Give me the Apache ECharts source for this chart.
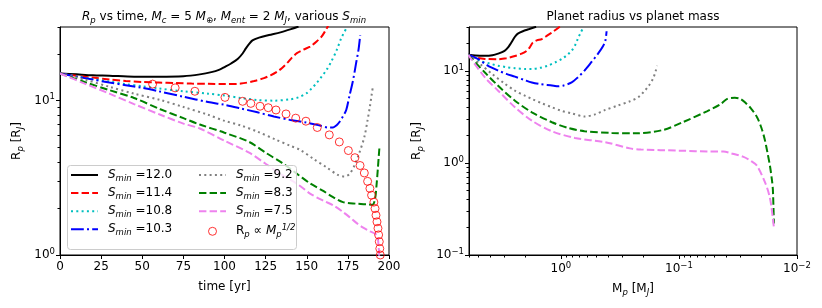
<!DOCTYPE html>
<html><head><meta charset="utf-8">
<script src="https://cdn.jsdelivr.net/npm/echarts@6/dist/echarts.min.js"></script>
<style>html,body{margin:0;padding:0;background:#fff}#c{width:822px;height:308px}</style>
</head><body><div id="c"></div>
<script>
// ---------- Left panel: R_p vs time ----------
const tS120 = [0,10,20,30,45,60,75,85,92,97,100,104,108,111,113,115,117,121,127,134,141,145];
const rS120 = [15,14.8,14.6,14.5,14.3,14.3,14.4,14.8,15.3,15.9,16.5,17.4,18.6,20.2,21.8,23.3,24.6,25.6,26.6,27.7,29.2,30.2];
const tS114 = [0,10,20,30,40,50,60,70,80,90,100,110,118,124,128,132,135,138,141,144,148,152,156,159,161,163];
const rS114 = [15,14.5,14.1,13.7,13.4,13.2,13.1,13.0,12.9,12.85,12.8,12.9,13.4,14.0,14.6,15.4,16.3,17.5,19.0,20.3,21.4,22.4,24.2,26,28,30.5];
const tS108 = [0,10,20,30,40,50,60,75,90,100,110,120,130,140,145,150,153,156,159,162,165,168,171,174.5];
const rS108 = [15,14.4,13.8,13.3,12.8,12.4,12.0,11.5,11.1,10.8,10.4,10.1,10.0,10.2,10.5,11.2,12.0,13.0,14.3,15.8,18,21,25.4,30];
const tS103 = [0,10,20,30,40,50,60,75,90,100,110,120,130,140,150,158,163,166,168,170,172,174,176,178,180,181.5,182.5];
const rS103 = [15,14.3,13.7,13.1,12.6,12.1,11.5,10.6,9.8,9.4,8.9,8.4,7.9,7.5,7.2,6.9,6.7,6.7,6.9,7.3,7.9,8.7,10.8,13.3,17.5,21.5,26.5];
const tS092 = [0,15,30,45,61,75,90,100,110,120,131,140,146,154,162,169,173,176,179,182,185,187,188.5,189.5,190.3];
const rS092 = [15,13.7,12.3,11.1,10.1,9.1,8.1,7.4,6.9,6.3,5.6,5.1,4.8,4.2,3.7,3.3,3.23,3.35,3.8,4.6,5.8,7.5,9.3,11,12.5];
const tS083 = [0,15,30,45,61,75,85,100,115,125,135,145,152,160,166,172,180,186.6,190,191.5,192.5,193.2,193.8,194.2];
const rS083 = [15,13.2,11.7,10.4,8.8,7.7,7.0,6.2,5.4,4.6,3.95,3.3,2.91,2.6,2.37,2.2,2.15,2.13,2.12,2.3,2.9,3.6,4.4,5.0];
const tS075 = [0,15,30,45,61,75,85,100,115,125,135,145,152,160,166,172,176,180,184,188,192.5,193.5,194.2,194.7,195.2];
const rS075 = [15,12.9,11.1,9.5,8.1,7.1,6.6,5.5,4.6,3.9,3.3,2.85,2.5,2.25,2.1,1.9,1.76,1.62,1.51,1.43,1.35,1.2,0.9,0.6,0.3];
const tCirc = [56.3,70,82,100.3,111,116,121.6,126.6,131.3,137.4,143.3,149.5,156.4,163.7,169.8,175.3,179.3,182.4,185,187,188.4,189.4,190.8,191.5,192.1,192.7,193.3,193.7,194.1,194.4,194.7,195];
const rCirc = [12.8,12.1,11.5,10.5,9.9,9.6,9.2,9.0,8.7,8.2,7.7,7.36,6.7,6.0,5.4,4.75,4.27,3.8,3.4,3.0,2.7,2.44,2.2,2.0,1.81,1.64,1.49,1.35,1.22,1.1,1.0,0.9];

// ---------- Right panel: R_p vs M_p ----------
const mS120 = [6.1,5.3,4.4,3.8,3.4,3.0,2.8,2.65,2.45,2.33,2.1,1.85,1.62];
const qS120 = [15,14.7,14.6,14.8,15.4,16.5,18,20,23.5,25.3,27,28.5,30.2];
const mS114 = [6.1,5.3,4.4,3.4,2.9,2.45,2.15,1.94,1.82,1.73,1.6,1.45,1.3,1.15,1.02];
const qS114 = [15,14,13.5,13.4,13.7,14.5,15.4,16.6,18.3,20.3,21.5,22.2,24.3,27,30.2];
const mS108 = [6.1,4.85,4.0,3.4,2.9,2.45,2.0,1.76,1.5,1.29,1.1,0.98,0.88,0.81,0.75,0.72,0.68,0.65];
const qS108 = [15,12.9,12.0,11.4,11.0,10.7,10.5,10.5,10.8,11.4,12.5,13.5,15,16.6,19.5,22.2,26,29];
const mS103 = [6.1,5.05,4.2,3.4,2.9,2.45,2.0,1.76,1.5,1.31,1.15,1.06,0.95,0.81,0.72,0.63,0.55,0.486,0.44,0.42,0.41];
const qS103 = [15,13.5,11.5,10.1,9.3,8.66,7.9,7.5,7.2,7.05,6.9,6.8,6.95,7.5,8.5,10.1,12.5,15.3,18.5,21.3,27];
const mS092 = [6.1,4.8,3.84,3.0,2.45,2.0,1.76,1.45,1.19,1.0,0.81,0.63,0.52,0.42,0.33,0.26,0.22,0.2,0.18,0.166,0.158,0.153];
const qS092 = [15,11.8,9.3,7.3,6.1,5.35,4.96,4.45,4.03,3.7,3.46,3.2,3.35,3.77,4.2,4.68,5.2,5.87,6.9,8.2,9.8,11.4];
const mS083 = [6.1,4.4,3.4,2.45,1.76,1.19,0.87,0.63,0.37,0.236,0.137,0.093,0.058,0.045,0.039,0.0336,0.0305,0.0276,0.0245,0.0218,0.02,0.0188,0.0178,0.0169,0.0163,0.016,0.0157];
const qS083 = [15,9.6,6.9,4.75,3.55,2.77,2.4,2.21,2.12,2.1,2.28,2.77,3.64,4.3,4.96,5.1,5.0,4.56,3.9,3.14,2.4,1.82,1.3,0.91,0.65,0.51,0.22];
const mS075 = [6.1,4.4,3.4,2.45,1.76,1.19,0.76,0.42,0.26,0.21,0.098,0.054,0.042,0.036,0.0287,0.0245,0.0218,0.0185,0.0172,0.0165,0.0157];
const qS075 = [15,8.5,6.1,4.03,2.88,2.21,1.87,1.68,1.44,1.4,1.36,1.33,1.33,1.27,1.17,1.05,0.93,0.6,0.45,0.34,0.2];

// ---------- Ticks ----------
const timeTicks = [0,25,50,75,100,125,150,175,200];
const leftMajorY = [1,10];
const leftMinorY = [2,3,4,5,6,7,8,9,20,30];
const rightMajorY = [0.1,1,10];
const rightMinorY = [0.2,0.3,0.4,0.5,0.6,0.7,0.8,0.9,2,3,4,5,6,7,8,9,20,30];
const rightMajorX = [0.01,0.1,1];
const rightMinorX = [0.02,0.03,0.04,0.05,0.06,0.07,0.08,0.09,0.2,0.3,0.4,0.5,0.6,0.7,0.8,0.9,2,3,4,5,6];

const sNames = ['12.0','11.4','10.8','10.3','9.2','8.3','7.5'];
const colors = ['#000000','#ff0000','#00bfbf','#0000ff','#808080','#008000','#ee82ee'];
const dashes = ['solid',[7.4,3.2],[2,3.3],[12.8,3.2,2,3.2],[2,3.3],[7.4,3.2],[7.4,3.2]];
const leftT = [tS120,tS114,tS108,tS103,tS092,tS083,tS075];
const leftR = [rS120,rS114,rS108,rS103,rS092,rS083,rS075];
const rightM = [mS120,mS114,mS108,mS103,mS092,mS083,mS075];
const rightR = [qS120,qS114,qS108,qS103,qS092,qS083,qS075];
const circName = 'circ';

const zip = (a,b) => a.map((v,i)=>[v,b[i]]);
const FONT = 'DejaVu Sans';
const W = 'normal';
const richBase = {
  n: {fontSize:12, fontFamily:FONT, fontWeight:W, color:'#000', lineHeight:16},
  i: {fontSize:12, fontFamily:FONT, fontWeight:W, fontStyle:'italic', color:'#000', lineHeight:16},
  si: {fontSize:8.5, fontFamily:FONT, fontWeight:W, fontStyle:'italic', color:'#000', lineHeight:9, verticalAlign:'bottom'},
  sn: {fontSize:8.5, fontFamily:FONT, fontWeight:W, color:'#000', lineHeight:9, verticalAlign:'bottom'},
  sup: {fontSize:8.5, fontFamily:FONT, fontWeight:W, fontStyle:'italic', color:'#000', lineHeight:9, verticalAlign:'top'},
  b: {fontSize:12, fontFamily:FONT, fontWeight:W, color:'#000', lineHeight:16},
  e: {fontSize:8.5, fontFamily:FONT, fontWeight:W, color:'#000', lineHeight:10, verticalAlign:'top'}
};
function powLabel(v){
  const e = Math.round(Math.log10(v));
  return '{b|10}{e|' + (e < 0 ? '\u2212' + (-e) : e) + '}';
}
function legendFmt(name){
  if (name === circName) return '{n|R}{si|p}{n| \u221d }{i|M}{si|p}{sup|1/2}';
  return '{i|S}{si|min}{n| =' + name + '}';
}
const hideSym = {color:'rgba(0,0,0,0)', borderWidth:0};
const legItem = n => n === circName
  ? {name:n, icon:'circle', itemStyle:{color:'rgba(255,255,255,0)', borderColor:'#ff0000', borderWidth:1}}
  : {name:n, itemStyle:hideSym};

const series = [];
for (let k = 0; k < 7; k++) {
  series.push({
    name: sNames[k], type:'line', xAxisIndex:0, yAxisIndex:0,
    data: zip(leftT[k], leftR[k]), symbol:'none', smooth:0.3,
    lineStyle:{color:colors[k], width:2, type:dashes[k]}, itemStyle:{color:colors[k]}, z:2, animation:false
  });
}
series.push({
  name: circName, type:'scatter', xAxisIndex:0, yAxisIndex:0,
  data: zip(tCirc, rCirc), symbol:'circle', symbolSize:8,
  itemStyle:{color:'rgba(255,255,255,0)', borderColor:'#ff0000', borderWidth:1}, z:3, animation:false
});
for (let k = 0; k < 7; k++) {
  series.push({
    name: sNames[k], type:'line', xAxisIndex:1, yAxisIndex:2,
    data: zip(rightM[k], rightR[k]), symbol:'none', smooth:0.3,
    lineStyle:{color:colors[k], width:2, type:dashes[k]}, itemStyle:{color:colors[k]}, z:2, animation:false
  });
}

const axisLine = {show:true, lineStyle:{color:'#000', width:1}};
const lblStyle = {color:'#000', fontFamily:FONT, fontSize:12};

const option = {
  animation:false,
  backgroundColor:'#fff',
  title:[
    {text:'{i|R}{si|p}{n| vs time, }{i|M}{si|c}{n| = 5 }{i|M}{sn|\u2295}{n|, }{i|M}{si|ent}{n| = 2 }{i|M}{si|J}{n|, various }{i|S}{si|min}',
     left:224, top:9, textAlign:'center', padding:0, textStyle:{fontWeight:'normal', rich:richBase}},
    {text:'Planet radius vs planet mass', left:633, top:9, textAlign:'center', padding:0,
     textStyle:{fontFamily:FONT, fontSize:12, fontWeight:'normal', color:'#000', lineHeight:16}}
  ],
  grid:[
    {left:60, width:329, top:27, height:228, show:true, borderColor:'#000', borderWidth:1, backgroundColor:'rgba(0,0,0,0)', outerBoundsMode:'none', containLabel:false},
    {left:469, width:328, top:27, height:228, show:true, borderColor:'#000', borderWidth:1, backgroundColor:'rgba(0,0,0,0)', outerBoundsMode:'none', containLabel:false}
  ],
  xAxis:[
    {type:'value', gridIndex:0, min:0, max:200, interval:25, axisLine,
     axisTick:{show:true, length:4, lineStyle:{color:'#000'}},
     axisLabel:{...lblStyle, margin:6, customValues:timeTicks},
     splitLine:{show:false},
     name:'time [yr]', nameLocation:'middle', nameGap:26, nameTextStyle:{...lblStyle}},
    {type:'log', logBase:10, gridIndex:1, min:0.01, max:6, inverse:true, axisLine,
     axisTick:{show:true, length:4, lineStyle:{color:'#000'}, customValues:rightMajorX},
     axisLabel:{customValues:rightMajorX, formatter:powLabel, margin:6, rich:richBase},
     splitLine:{show:false}, minorTick:{show:false},
     name:'{n|M}{si|p}{n| [M}{si|J}{n|]}', nameLocation:'middle', nameGap:26, nameTextStyle:{rich:richBase}},
    {type:'log', logBase:10, gridIndex:1, min:0.01, max:6, inverse:true, position:'bottom', offset:0,
     axisLine:{show:false},
     axisTick:{show:true, length:2.5, lineStyle:{color:'#000'}, customValues:rightMinorX},
     axisLabel:{show:false}, splitLine:{show:false}}
  ],
  yAxis:[
    {type:'log', logBase:10, gridIndex:0, min:1, max:30, position:'left', axisLine,
     axisTick:{show:true, length:4, lineStyle:{color:'#000'}, customValues:leftMajorY},
     axisLabel:{customValues:leftMajorY, formatter:powLabel, margin:5, rich:richBase},
     splitLine:{show:false},
     name:'{n|R}{si|p}{n| [R}{si|J}{n|]}', nameLocation:'middle', nameGap:35, nameRotate:90, nameTextStyle:{rich:richBase}},
    {type:'log', logBase:10, gridIndex:0, min:1, max:30, position:'left', offset:0,
     axisLine:{show:false},
     axisTick:{show:true, length:2.5, lineStyle:{color:'#000'}, customValues:leftMinorY},
     axisLabel:{show:false}, splitLine:{show:false}},
    {type:'log', logBase:10, gridIndex:1, min:0.1, max:30, position:'left', axisLine,
     axisTick:{show:true, length:4, lineStyle:{color:'#000'}, customValues:rightMajorY},
     axisLabel:{customValues:rightMajorY, formatter:powLabel, margin:5, rich:richBase},
     splitLine:{show:false},
     name:'{n|R}{si|p}{n| [R}{si|J}{n|]}', nameLocation:'middle', nameGap:44, nameRotate:90, nameTextStyle:{rich:richBase}},
    {type:'log', logBase:10, gridIndex:1, min:0.1, max:30, position:'left', offset:0,
     axisLine:{show:false},
     axisTick:{show:true, length:2.5, lineStyle:{color:'#000'}, customValues:rightMinorY},
     axisLabel:{show:false}, splitLine:{show:false}}
  ],
  legend:[
    {data:sNames.slice(0,4).map(legItem), orient:'vertical', left:70, top:169, itemWidth:27, itemHeight:8, itemGap:4.1,
     selectedMode:false, formatter:legendFmt, textStyle:{rich:richBase, padding:[0,0,0,5]}, padding:0, z:5},
    {data:[sNames[4],sNames[5],sNames[6],circName].map(legItem), orient:'vertical', left:198, top:169, itemWidth:27, itemHeight:8, itemGap:4.1,
     selectedMode:false, formatter:legendFmt, textStyle:{rich:richBase, padding:[0,0,0,5]}, padding:0, z:5}
  ],
  graphic:[
    {type:'rect', left:67, top:165, z:4, shape:{width:229, height:84, r:3},
     style:{fill:'rgba(255,255,255,0.8)', stroke:'#cccccc', lineWidth:1}}
  ],
  series
};
const chart = echarts.init(document.getElementById('c'), null, {renderer:'canvas'});
chart.setOption(option);
</script></body></html>
